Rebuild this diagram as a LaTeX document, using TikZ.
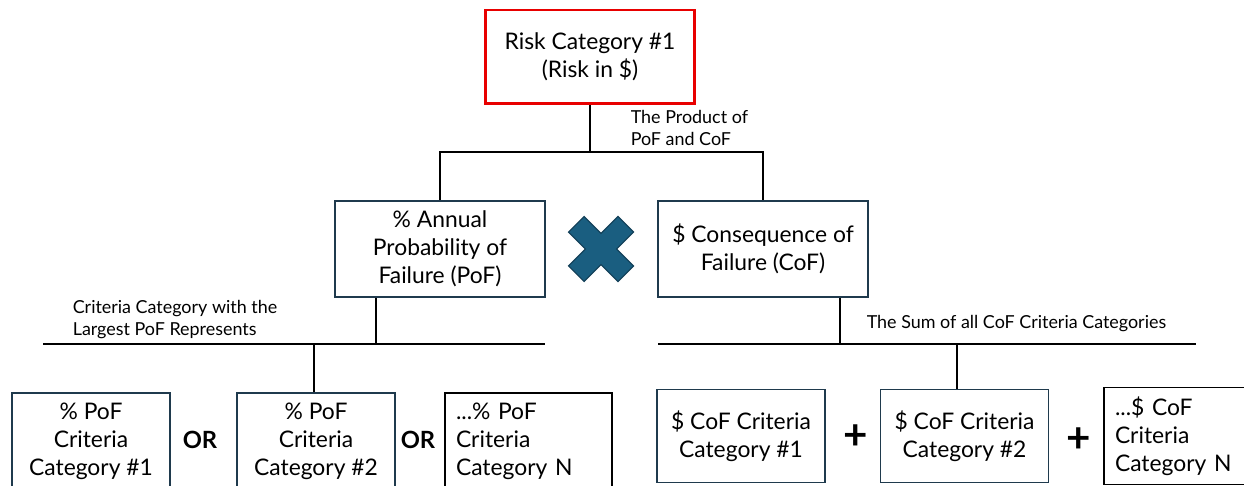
\documentclass[tikz,border=0pt]{standalone}
\usepackage{fontspec}
\setmainfont{Lato}
\definecolor{boxline}{HTML}{1F3A4D}
\definecolor{crossfill}{HTML}{1A5E80}
\definecolor{crossline}{HTML}{123F57}
\definecolor{riskred}{RGB}{232,0,0}
\begin{document}
\begin{tikzpicture}[x=0.02cm,y=-0.02cm,line width=0.9pt,
    box/.style={draw=boxline,line width=1pt,align=center,inner sep=0pt,
        font=\fontsize{13}{15.9}\selectfont},
    leftbox/.style={box,draw=black,align=left,inner xsep=0.22cm},
    note/.style={anchor=west,align=left,inner sep=0pt,font=\fontsize{10.2}{12.5}\selectfont},
    sign/.style={font=\bfseries\fontsize{13.5}{15}\selectfont},
    plus/.style={font=\bfseries\fontsize{24}{24}\selectfont}]
    \clip (0,0) rectangle (1244,486);
    \node[box,draw=riskred,line width=1.7pt,minimum width=4.2cm,minimum height=1.88cm]
        (risk) at (590,57) {Risk Category \#1\\(Risk in \$)};
    \node[box,minimum width=4.2cm,minimum height=1.92cm]
        (pof) at (440,249) {\% Annual\\Probability of\\Failure (PoF)};
    \node[box,minimum width=4.2cm,minimum height=1.92cm]
        (cof) at (763,249) {\$ Consequence of\\Failure (CoF)};
    \begin{scope}[shift={(601,249)},rotate=45]
        \draw[fill=crossfill,draw=crossline,line width=0.6pt]
        (-35,-11) -- (-11,-11) -- (-11,-35) -- (11,-35) -- (11,-11) -- (35,-11)
        -- (35,11) -- (11,11) -- (11,35) -- (-11,35) -- (-11,11) -- (-35,11) -- cycle;
    \end{scope}
    \node[note] (prodnote) at (630,128) {The Product of\\PoF and CoF};
    \node[note] (maxnote) at (72,320) {Criteria Category with the\\Largest PoF Represents};
    \node[note] (sumnote) at (866,324) {The Sum of all CoF Criteria Categories};
    \node[box,minimum width=3.16cm,minimum height=1.92cm]
        (pofa) at (91,441) {\% PoF\\Criteria\\Category \#1};
    \node[box,minimum width=3.16cm,minimum height=1.92cm]
        (pofb) at (316,441) {\% PoF\\Criteria\\Category \#2};
    \node[leftbox,text width=2.90cm,minimum height=1.92cm]
        (pofn) at (528.5,441) {...\% PoF\\Criteria\\Category N};
    \node[sign] (or1) at (200,440) {OR};
    \node[sign] (or2) at (418,440) {OR};
    \node[box,minimum width=3.36cm,minimum height=1.86cm]
        (cofa) at (741,436) {\$ CoF Criteria\\Category \#1};
    \node[box,minimum width=3.36cm,minimum height=1.86cm]
        (cofb) at (964.5,436) {\$ CoF Criteria\\Category \#2};
    \node[leftbox,text width=2.68cm,minimum height=1.94cm]
        (cofn) at (1182,436) {...\$ CoF\\Criteria\\Category N};
    \node[plus] (plus1) at (856,437) {+};
    \node[plus] (plus2) at (1079,440) {+};
    \coordinate (topbus) at (590,152);
    \draw (risk.south) -- (topbus);
    \draw (pof.north) |- (topbus) -| (cof.north);
    \coordinate (pofbus) at (376,344);
    \coordinate (pofbusw) at (43,344);
    \coordinate (pofbuse) at (545,344);
    \coordinate (pofdrop) at (314,344);
    \draw (pofbusw) -- (pofbuse);
    \draw (pofbus |- pof.south) -- (pofbus);
    \draw (pofdrop) -- (pofdrop |- pofb.north);
    \coordinate (cofbus) at (840,344);
    \coordinate (cofbusw) at (658,344);
    \coordinate (cofbuse) at (1196,344);
    \coordinate (cofdrop) at (957,344);
    \draw (cofbusw) -- (cofbuse);
    \draw (cofbus |- cof.south) -- (cofbus);
    \draw (cofdrop) -- (cofdrop |- cofb.north);
\end{tikzpicture}
\end{document}
